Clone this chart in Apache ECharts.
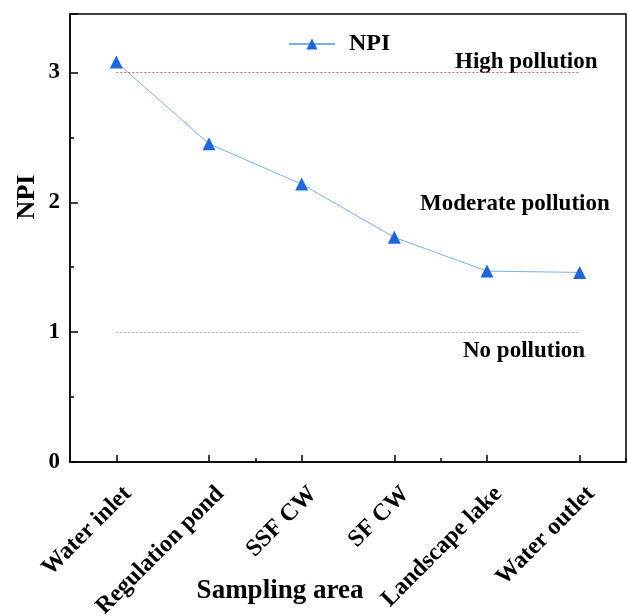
<!DOCTYPE html>
<html><head><meta charset="utf-8">
<script src="https://cdn.jsdelivr.net/npm/echarts@6/dist/echarts.min.js"></script>
<style>html,body{margin:0;padding:0;background:#fff}#c{width:628px;height:616px}</style>
</head><body><div id="c"></div>
<script>
const categories = ['Water inlet','Regulation pond','SSF CW','SF CW','Landscape lake','Water outlet'];
const npiValues = [3.08, 2.45, 2.14, 1.73, 1.47, 1.46];
const yTicks = [0, 1, 2, 3];
const thresholdHigh = 3;
const thresholdNo = 1;
const zoneLabels = ['High pollution', 'Moderate pollution', 'No pollution'];

const F = '"Liberation Serif","Times New Roman",serif';
const chart = echarts.init(document.getElementById('c'), null, {renderer:'canvas'});
chart.setOption({
  animation:false,
  grid:{left:70, right:2, top:14, bottom:154, show:true, borderColor:'#000', borderWidth:1.5,
    containLabel:false, outerBoundsMode:'none'},
  legend:{top:27, left:283, itemWidth:46, itemHeight:14, itemGap:10,
    textStyle:{fontFamily:F, fontWeight:'bold', fontSize:24, color:'#000', padding:[4,0,0,9]},
    data:[{name:'NPI'}]},
  xAxis:[{type:'category', data:categories, boundaryGap:true,
    axisLine:{show:true, lineStyle:{color:'#000', width:1.5}},
    axisTick:{show:true, alignWithLabel:true, inside:true, length:7, lineStyle:{color:'#000', width:1.5}},
    axisLabel:{rotate:45, margin:17, verticalAlign:'top', lineHeight:24, padding:[4,0,0,0],
      fontFamily:F, fontWeight:'bold', fontSize:24, color:'#000'},
    splitLine:{show:false}},
   {type:'category', data:categories, boundaryGap:true, position:'bottom',
    axisLine:{show:false},
    axisTick:{show:true, alignWithLabel:false, inside:true, length:4, lineStyle:{color:'#000', width:1.5}},
    axisLabel:{show:false}, splitLine:{show:false}}],
  yAxis:{type:'value', min:0, max:3.45, interval:1,
    axisLine:{show:true, lineStyle:{color:'#000', width:1.5}},
    axisTick:{show:true, inside:true, length:8, lineStyle:{color:'#000', width:1.5}},
    minorTick:{show:true, splitNumber:2, length:4, lineStyle:{color:'#000', width:1.5}},
    axisLabel:{margin:10, fontFamily:F, fontWeight:'bold', fontSize:23, color:'#000',
      formatter:v => yTicks.includes(v) ? String(v) : ''},
    splitLine:{show:false}},
  series:[{name:'NPI', type:'line', data:npiValues, symbol:'triangle', symbolSize:13,
    lineStyle:{color:'#78aef0', width:1},
    itemStyle:{color:'#1a68dc'},
    markLine:{silent:true, symbol:'none', label:{show:false},
      data:[
        [{coord:[0, thresholdHigh], lineStyle:{color:'#e06060', type:[2,2], width:1}},{coord:[categories.length-1, thresholdHigh]}],
        [{coord:[0, thresholdNo], lineStyle:{color:'#b0b0b0', type:[2,2], width:1}},{coord:[categories.length-1, thresholdNo]}]
      ]}}],
  graphic:[
    {type:'text', left:455, top:51, style:{text:zoneLabels[0], font:'bold 23px '+F, fill:'#000'}},
    {type:'text', left:420, top:193, style:{text:zoneLabels[1], font:'bold 23px '+F, fill:'#000'}},
    {type:'text', left:463, top:340, style:{text:zoneLabels[2], font:'bold 23px '+F, fill:'#000'}},
    {type:'text', x:27, y:197, rotation:Math.PI/2, style:{text:'NPI', font:'bold 26px '+F, fill:'#000', align:'center', verticalAlign:'middle'}},
    {type:'text', x:280, y:591, style:{text:'Sampling area', font:'bold 27px '+F, fill:'#000', align:'center', verticalAlign:'middle'}}
  ]
});
</script></body></html>
